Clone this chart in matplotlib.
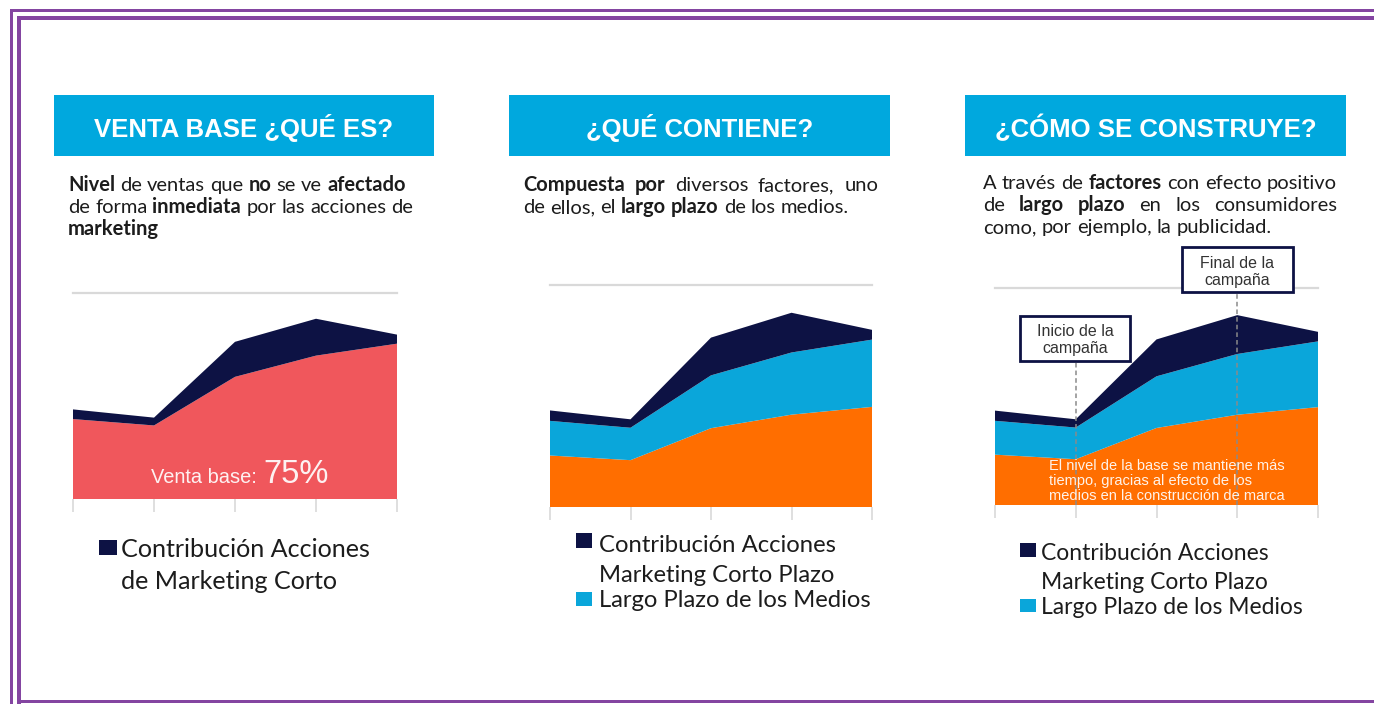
import matplotlib
matplotlib.use("Agg")
import matplotlib.pyplot as plt
from matplotlib.patches import Rectangle

W, H = 1374, 704

# ---------------- data ----------------
x_pts = [0, 1, 2, 3, 4]
orange_base = [23.2, 21.1, 35.5, 41.6, 45.1]   # base "otros factores"
largo_plazo = [15.6, 14.6, 23.8, 28.0, 30.3]   # largo plazo de los medios
corto_plazo = [4.7, 3.8, 17.0, 17.9, 4.4]      # acciones marketing corto plazo
venta_base = [o + l for o, l in zip(orange_base, largo_plazo)]
grid_level = 100

headers = ["VENTA BASE ¿QUÉ ES?", "¿QUÉ CONTIENE?", "¿CÓMO SE CONSTRUYE?"]

desc1 = [
    [("Nivel", True), ("de ventas que", False), ("no", True), ("se ve", False), ("afectado", True)],
    [("de forma", False), ("inmediata", True), ("por las acciones de", False)],
    [("marketing", True)],
]
desc2 = [
    [("Compuesta por", True), ("diversos factores, uno", False)],
    [("de ellos, el", False), ("largo plazo", True), ("de los medios.", False)],
]
desc3 = [
    [("A través de", False), ("factores", True), ("con efecto positivo", False)],
    [("de", False), ("largo plazo", True), ("en los consumidores", False)],
    [("como, por ejemplo, la publicidad.", False)],
]

legend_corto = ["Contribución Acciones", "de Marketing Corto"]
legend_corto2 = ["Contribución Acciones", "Marketing Corto Plazo"]
legend_largo = "Largo Plazo de los Medios"
note_text = ["El nivel de la base se mantiene más",
             "tiempo, gracias al efecto de los",
             "medios en la construcción de marca"]

# ---------------- style ----------------
PURPLE = "#8445A1"
HEAD = "#00A8DE"
RED = "#F0575C"
NAVY = "#0D1244"
BLUE = "#0AA6DA"
ORANGE = "#FF6E00"
GRID = "#D9D9D9"
TXT = "#1C1C1C"

plt.rcParams["font.family"] = ["Lato", "DejaVu Sans"]

fig = plt.figure(figsize=(W / 100, H / 100), dpi=100)
fig.patch.set_facecolor("white")
renderer = fig.canvas.get_renderer()

ov = fig.add_axes([0, 0, 1, 1], zorder=5)
ov.set_xlim(0, W)
ov.set_ylim(H, 0)
ov.axis("off")
ov.patch.set_alpha(0)


def rich_line(x0, y, runs, size, color=TXT, width=None):
    words = [(w, b) for text, b in runs for w in text.split()]
    arts, widths = [], []
    for w, b in words:
        t = ov.text(0, y, w, fontsize=size, fontweight="bold" if b else "normal",
                    color=color, va="baseline", ha="left")
        widths.append(t.get_window_extent(renderer).width)
        arts.append(t)
    if width is not None and len(words) > 1:
        gap = (width - sum(widths)) / (len(words) - 1)
    else:
        a = ov.text(0, 0, "a a", fontsize=size)
        b = ov.text(0, 0, "aa", fontsize=size)
        gap = a.get_window_extent(renderer).width - b.get_window_extent(renderer).width
        a.remove()
        b.remove()
    x = x0
    for t, w in zip(arts, widths):
        t.set_x(x)
        x += w + gap


def chart_axes(left, right, top, bottom):
    ax = fig.add_axes([left / W, 1 - bottom / H, (right - left) / W, (bottom - top) / H])
    ax.set_xlim(0, 4)
    ax.set_ylim(0, grid_level)
    for s in ax.spines.values():
        s.set_visible(False)
    ax.set_xticks(x_pts)
    ax.set_xticklabels([])
    ax.set_yticks([])
    ax.tick_params(axis="x", length=9, width=1.2, color=GRID, direction="out")
    ax.axhline(grid_level, color=GRID, lw=1.6, clip_on=False)
    ax.patch.set_alpha(0)
    return ax


# ---------------- borders ----------------
ov.add_patch(Rectangle((10, 9), W, 3, color=PURPLE, lw=0))
ov.add_patch(Rectangle((17, 16), W, 3.5, color=PURPLE, lw=0))
ov.add_patch(Rectangle((10, 9), 3, H, color=PURPLE, lw=0))
ov.add_patch(Rectangle((17, 16), 3.5, 688, color=PURPLE, lw=0))
ov.add_patch(Rectangle((17, 699.5), W, 3.5, color=PURPLE, lw=0))

# ---------------- headers ----------------
head_x = [(54, 434), (509, 890), (965, 1346)]
for (l, r), title in zip(head_x, headers):
    ov.add_patch(Rectangle((l, 95), r - l, 61, color=HEAD, lw=0))
    ov.text((l + r) / 2, 137, title, family="Liberation Sans", fontweight="bold",
            fontsize=18.5, color="white", ha="center", va="baseline")

# ---------------- descriptions ----------------
DS = 14.5
for i, line in enumerate(desc1):
    rich_line(68, 191 + 22 * i, line, DS)
for i, line in enumerate(desc2):
    rich_line(523, 191 + 22 * i, line, DS, width=355 if i == 0 else None)
for i, line in enumerate(desc3):
    rich_line(983, 189 + 22 * i, line, DS, width=354 if i < 2 else None)

# ---------------- panel 1 ----------------
ax1 = chart_axes(73, 397, 293, 499)
ax1.stackplot(x_pts, venta_base, corto_plazo, colors=[RED, NAVY], lw=0)
ov.text(151, 483, "Venta base:", family="Liberation Sans", fontsize=14.4,
        color="white", alpha=0.92, va="baseline", ha="left")
ov.text(263, 483, "75%", family="Liberation Sans", fontsize=23.5,
        color="white", alpha=0.92, va="baseline", ha="left")

ov.add_patch(Rectangle((99, 540), 18, 15, color=NAVY, lw=0))
ov.text(121, 557, legend_corto[0], fontsize=18.1, color=TXT, va="baseline")
ov.text(121, 589, legend_corto[1], fontsize=18.1, color=TXT, va="baseline")

# ---------------- panel 2 ----------------
ax2 = chart_axes(550, 872, 285, 507)
ax2.stackplot(x_pts, orange_base, largo_plazo, corto_plazo,
              colors=[ORANGE, BLUE, NAVY], lw=0)
ov.add_patch(Rectangle((576, 533), 16, 15, color=NAVY, lw=0))
ov.text(599, 552, legend_corto2[0], fontsize=17.2, color=TXT, va="baseline")
ov.text(599, 582, legend_corto2[1], fontsize=17.2, color=TXT, va="baseline")
ov.add_patch(Rectangle((576, 592), 16, 14, color=BLUE, lw=0))
ov.text(599, 607, legend_largo, fontsize=17.2, color=TXT, va="baseline")

# ---------------- panel 3 ----------------
ax3 = chart_axes(995, 1318, 288, 505)
ax3.stackplot(x_pts, orange_base, largo_plazo, corto_plazo,
              colors=[ORANGE, BLUE, NAVY], lw=0)
ax3.vlines(1, 0, 66, colors="#8A8A8A", linestyles=(0, (3, 2)), lw=1.1, clip_on=False)
ax3.vlines(3, 0, 98, colors="#8A8A8A", linestyles=(0, (3, 2)), lw=1.1, clip_on=False)

for (l, t, r, b), lines in [((1020, 316, 1130, 361), ["Inicio de la", "campaña"]),
                            ((1182, 247, 1293, 292), ["Final de la", "campaña"])]:
    ov.add_patch(Rectangle((l, t), r - l, b - t, fc="white", ec=NAVY, lw=2))
    cx = (l + r) / 2
    ov.text(cx, t + 16, lines[0], family="Liberation Sans", fontsize=11.5,
            color="#333333", ha="center", va="center")
    ov.text(cx, t + 33, lines[1], family="Liberation Sans", fontsize=11.5,
            color="#333333", ha="center", va="center")

for i, line in enumerate(note_text):
    ov.text(1049, 470 + 15 * i, line, family="Liberation Sans", fontsize=10.5,
            color="#FFF3EA", va="baseline", ha="left")

ov.add_patch(Rectangle((1020, 543), 16, 14, color=NAVY, lw=0))
ov.text(1041, 560, legend_corto2[0], fontsize=16.5, color=TXT, va="baseline")
ov.text(1041, 589, legend_corto2[1], fontsize=16.5, color=TXT, va="baseline")
ov.add_patch(Rectangle((1020, 599), 16, 13, color=BLUE, lw=0))
ov.text(1041, 614, legend_largo, fontsize=16.5, color=TXT, va="baseline")

fig.savefig("out.png", dpi=100)
